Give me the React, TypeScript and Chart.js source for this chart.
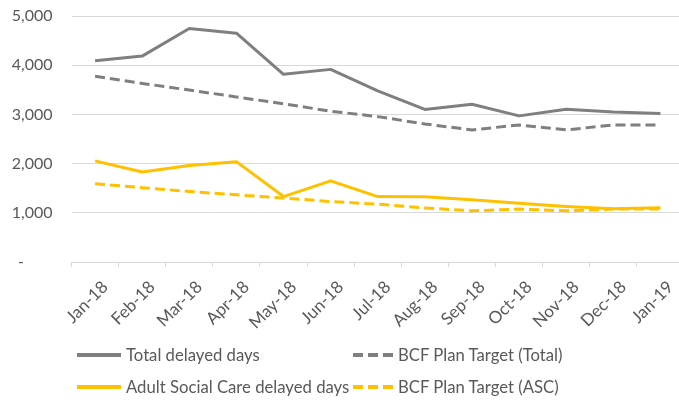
import React, { useEffect, useRef } from "react";
import { Chart, registerables } from "chart.js";

Chart.register(...registerables);

const labels = ["Jan-18", "Feb-18", "Mar-18", "Apr-18", "May-18", "Jun-18", "Jul-18", "Aug-18", "Sep-18", "Oct-18", "Nov-18", "Dec-18", "Jan-19"];
const totalDelayed = [4090, 4185, 4745, 4650, 3815, 3915, 3480, 3100, 3205, 2970, 3105, 3050, 3020];
const bcfTotal = [3775, 3630, 3495, 3355, 3215, 3065, 2955, 2805, 2685, 2785, 2685, 2785, 2785];
const ascDelayed = [2055, 1830, 1960, 2040, 1330, 1650, 1330, 1325, 1265, 1195, 1130, 1080, 1105];
const bcfAsc = [1590, 1510, 1435, 1365, 1300, 1230, 1175, 1100, 1040, 1075, 1040, 1075, 1075];
const yTicks = [0, 1000, 2000, 3000, 4000, 5000];

const GRAY = "#7f7f7f";
const GOLD = "#ffc000";
const TEXT = "#595959";
const GRID = "#d9d9d9";
const FONT = "Lato";

const series = [
  { label: "Total delayed days", data: totalDelayed, color: GRAY, dash: [] as number[] },
  { label: "BCF Plan Target (Total)", data: bcfTotal, color: GRAY, dash: [10, 5] },
  { label: "Adult Social Care delayed days", data: ascDelayed, color: GOLD, dash: [] as number[] },
  { label: "BCF Plan Target (ASC)", data: bcfAsc, color: GOLD, dash: [10, 5] },
];

const legendPos = [
  { x: 77, y: 355, w: 44 },
  { x: 353, y: 355, w: 40 },
  { x: 77, y: 387, w: 44 },
  { x: 353, y: 387, w: 40 },
];

export default function App() {
  const ref = useRef<HTMLCanvasElement | null>(null);
  useEffect(() => {
    if (!ref.current) return;
    const chart = new Chart(ref.current, {
      type: "line",
      data: {
        labels,
        datasets: series.map((s) => ({
          label: s.label,
          data: s.data,
          borderColor: s.color,
          backgroundColor: s.color,
          borderDash: s.dash,
          borderWidth: 3,
          pointRadius: 0,
          tension: 0,
          fill: false,
          borderJoinStyle: "round" as const,
        })),
      },
      options: {
        responsive: false,
        animation: false,
        devicePixelRatio: 1,
        layout: { padding: { left: 0, right: 6, top: 16, bottom: 0 } },
        plugins: { legend: { display: false }, tooltip: { enabled: false } },
        scales: {
          x: {
            type: "category",
            offset: true,
            grid: { drawOnChartArea: false, drawTicks: true, tickLength: 5, color: GRID, offset: true },
            border: { color: GRID, width: 1 },
            ticks: {
              color: TEXT,
              font: { family: FONT, size: 17 },
              minRotation: 45,
              maxRotation: 45,
              autoSkip: false,
              padding: 10,
              labelOffset: 10,
            },
            afterFit: (s: any) => {
              s.height = 139;
              s.paddingLeft = 0;
              s.paddingRight = 0;
            },
          },
          y: {
            min: 0,
            max: 5000,
            afterBuildTicks: (s: any) => {
              s.ticks = yTicks.map((v) => ({ value: v }));
            },
            grid: { color: GRID, drawTicks: false, lineWidth: 1 },
            border: { display: false },
            ticks: {
              color: TEXT,
              font: { family: FONT, size: 16 },
              padding: 19,
              callback: (v: any) => (Number(v) === 0 ? "-       " : Number(v).toLocaleString("en-US")),
            },
            afterFit: (s: any) => {
              s.width = 71.5;
              s.paddingTop = 0;
              s.paddingBottom = 0;
            },
          },
        },
      },
    });
    return () => chart.destroy();
  }, []);

  return (
    <div style={{ position: "fixed", left: 0, top: 0, width: 679, height: 401, overflow: "hidden", background: "#fff" }}>
      <canvas ref={ref} width={690} height={401} style={{ width: 690, height: 401, display: "block" }} />
      {series.map((s, i) => {
        const p = legendPos[i];
        return (
          <div key={s.label} style={{ position: "absolute", left: p.x, top: p.y - 12, height: 24, display: "flex", alignItems: "center", whiteSpace: "nowrap" }}>
            <svg width={p.w} height={6} style={{ display: "block" }}>
              <line x1={0} y1={3} x2={p.w} y2={3} stroke={s.color} strokeWidth={4} strokeDasharray={s.dash.length ? "10 5" : undefined} />
            </svg>
            <span style={{ marginLeft: 5, fontFamily: FONT, fontSize: 16.7, color: TEXT }}>{s.label}</span>
          </div>
        );
      })}
    </div>
  );
}
